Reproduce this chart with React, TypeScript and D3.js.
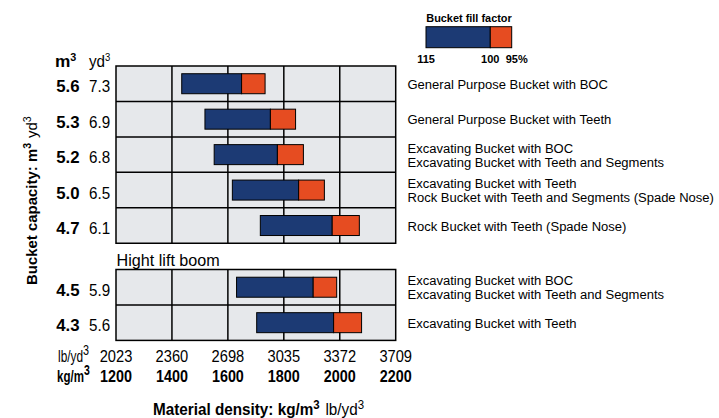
import React from "react";
import * as d3 from "d3";

const capacityM3 = ["5.6", "5.3", "5.2", "5.0", "4.7", "4.5", "4.3"];
const capacityYd3 = ["7.3", "6.9", "6.8", "6.5", "6.1", "5.9", "5.6"];
// density limits (kg/m3) at fill factor 115 %, 100 %, 95 %
const density115 = [1435, 1518, 1551, 1616, 1716, 1631, 1703];
const density100 = [1649, 1752, 1777, 1853, 1973, 1905, 1978];
const density95 = [1733, 1842, 1870, 1945, 2070, 1989, 2078];
const bucketNames = [
  ["General Purpose Bucket with BOC"],
  ["General Purpose Bucket with Teeth"],
  ["Excavating Bucket with BOC", "Excavating Bucket with Teeth and Segments"],
  ["Excavating Bucket with Teeth", "Rock Bucket with Teeth and Segments (Spade Nose)"],
  ["Rock Bucket with Teeth (Spade Nose)"],
  ["Excavating Bucket with BOC", "Excavating Bucket with Teeth and Segments"],
  ["Excavating Bucket with Teeth"],
];
const rowGroup = [0, 0, 0, 0, 0, 1, 1];
const kgTicks = [1200, 1400, 1600, 1800, 2000, 2200];
const lbTicks = ["2023", "2360", "2698", "3035", "3372", "3709"];
const legendLabels = ["115", "100", "95%"];
const legendVals = [115, 100, 95];

const FONT = "'Liberation Sans', Arial, sans-serif";
const BLUE = "#1c3a74";
const ORANGE = "#e64c21";
const CELL = "#e6e8eb";

// condensed text: horizontal squeeze around the anchor point
function T({ x, y, sx = 1, children, ...rest }: any) {
  return (
    <text transform={`translate(${x},${y}) scale(${sx},1)`} {...rest}>
      {children}
    </text>
  );
}

export default function App() {
  const x = d3.scaleLinear().domain([1200, 2200]).range([116, 395.7]);
  const rowH = 35.45;
  const groupTops = [66, 269.5];
  const groupRows = [0, 1].map((g) => d3.range(rowGroup.length).filter((i) => rowGroup[i] === g));
  const yScales = groupRows.map((rows, g) =>
    d3.scaleBand<number>().domain(rows).range([groupTops[g], groupTops[g] + rows.length * rowH])
  );
  const yOf = (i: number) => yScales[rowGroup[i]](i)!;
  const barH = 20;

  const legendX = d3.scaleLinear().domain([115, 95]).range([426, 511.7]);

  return (
    <svg width={719} height={418} style={{ position: "absolute", left: 0, top: 0, fontFamily: FONT }}>
      <rect width={719} height={418} fill="#fff" />
      {/* Legend */}
      <T x={469} y={22} sx={0.95} textAnchor="middle" fontWeight="bold" fontSize={11.5}>Bucket fill factor</T>
      <rect x={legendX(115)} y={26.7} width={legendX(100) - legendX(115)} height={21} fill={BLUE} stroke="#000" strokeWidth={1} />
      <rect x={legendX(100)} y={26.7} width={legendX(95) - legendX(100)} height={21} fill={ORANGE} stroke="#000" strokeWidth={1} />
      {legendVals.map((v, i) => (
        <T key={i} x={i === 2 ? legendX(v) - 6 : legendX(v)} y={62.7} textAnchor={i === 2 ? "start" : "middle"} fontWeight="bold" fontSize={11}>
          {legendLabels[i]}
        </T>
      ))}

      {/* Groups */}
      {groupRows.map((rows, g) => {
        const top = groupTops[g];
        const bottom = top + rows.length * rowH;
        return (
          <g key={g}>
            <rect x={x(1200)} y={top} width={x(2200) - x(1200)} height={bottom - top} fill={CELL} />
            {kgTicks.slice(1, -1).map((t) => (
              <line key={t} x1={x(t)} x2={x(t)} y1={top} y2={bottom} stroke="#000" strokeWidth={1.5} />
            ))}
            {rows.slice(1).map((i) => (
              <line key={i} x1={x(1200)} x2={x(2200)} y1={yOf(i)} y2={yOf(i)} stroke="#000" strokeWidth={1.5} />
            ))}
          </g>
        );
      })}

      {/* Bars */}
      {capacityM3.map((_, i) => {
        const yc = yOf(i) + rowH / 2;
        return (
          <g key={i}>
            <rect x={x(density115[i])} y={yc - barH / 2} width={x(density100[i]) - x(density115[i])} height={barH} fill={BLUE} stroke="#000" strokeWidth={1} />
            <rect x={x(density100[i])} y={yc - barH / 2} width={x(density95[i]) - x(density100[i])} height={barH} fill={ORANGE} stroke="#000" strokeWidth={1} />
          </g>
        );
      })}

      {/* Group borders */}
      {groupRows.map((rows, g) => (
        <rect key={g} x={x(1200)} y={groupTops[g]} width={x(2200) - x(1200)} height={rows.length * rowH} fill="none" stroke="#000" strokeWidth={1.5} />
      ))}

      {/* Row labels */}
      {capacityM3.map((m, i) => {
        const yc = yOf(i) + rowH / 2;
        const names = bucketNames[i];
        return (
          <g key={i}>
            <T x={79.5} y={yc + 8.5} textAnchor="end" fontWeight="bold" fontSize={16} sx={1.05}>{m}</T>
            <T x={89} y={yc + 8.5} fontSize={16} sx={0.95}>{capacityYd3[i]}</T>
            {names.length === 1 ? (
              <T x={407.5} y={yc + 5} fontSize={13.5} sx={0.965}>{names[0]}</T>
            ) : (
              names.map((n, k) => (
                <T key={k} x={407.5} y={yc - 2 + k * 14} fontSize={13.5} sx={0.965}>{n}</T>
              ))
            )}
          </g>
        );
      })}

      {/* Column header */}
      <T x={55} y={67} fontWeight="bold" fontSize={16} sx={1.08}>
        m<tspan fontSize={10} dy={-6}>3</tspan>
      </T>
      <T x={89} y={67} fontSize={16} sx={0.95}>
        yd<tspan fontSize={10} dy={-6}>3</tspan>
      </T>

      <T x={116.5} y={266} fontSize={16.5} sx={0.98}>Hight lift boom</T>

      {/* Bottom axis */}
      <T x={58} y={362} fontSize={16.5} sx={0.72}>
        lb/yd<tspan fontSize={15} dy={-7}>3</tspan>
      </T>
      <T x={57} y={382} fontWeight="bold" fontSize={16.5} sx={0.7}>
        kg/m<tspan fontSize={15} dy={-7}>3</tspan>
      </T>
      {kgTicks.map((t, i) => (
        <g key={t}>
          <T x={x(t)} y={362} textAnchor="middle" fontSize={16.5} sx={0.89}>{lbTicks[i]}</T>
          <T x={x(t)} y={382} textAnchor="middle" fontWeight="bold" fontSize={16.5} sx={0.87}>{t}</T>
        </g>
      ))}

      <T x={153} y={415} fontSize={16} sx={0.955}>
        <tspan fontWeight="bold">Material density: kg/m</tspan>
        <tspan fontWeight="bold" fontSize={12} dy={-6}>3</tspan>
        <tspan dy={6} dx={6}>lb/yd</tspan>
        <tspan fontSize={12} dy={-6}>3</tspan>
      </T>

      {/* Y axis title */}
      <text transform="translate(37,285) rotate(-90) scale(0.965,1)" fontSize={15.5}>
        <tspan fontWeight="bold">Bucket capacity: m</tspan>
        <tspan fontWeight="bold" fontSize={11} dy={-6}>3</tspan>
        <tspan dy={6} dx={5}>yd</tspan>
        <tspan fontSize={11} dy={-6}>3</tspan>
      </text>
    </svg>
  );
}
